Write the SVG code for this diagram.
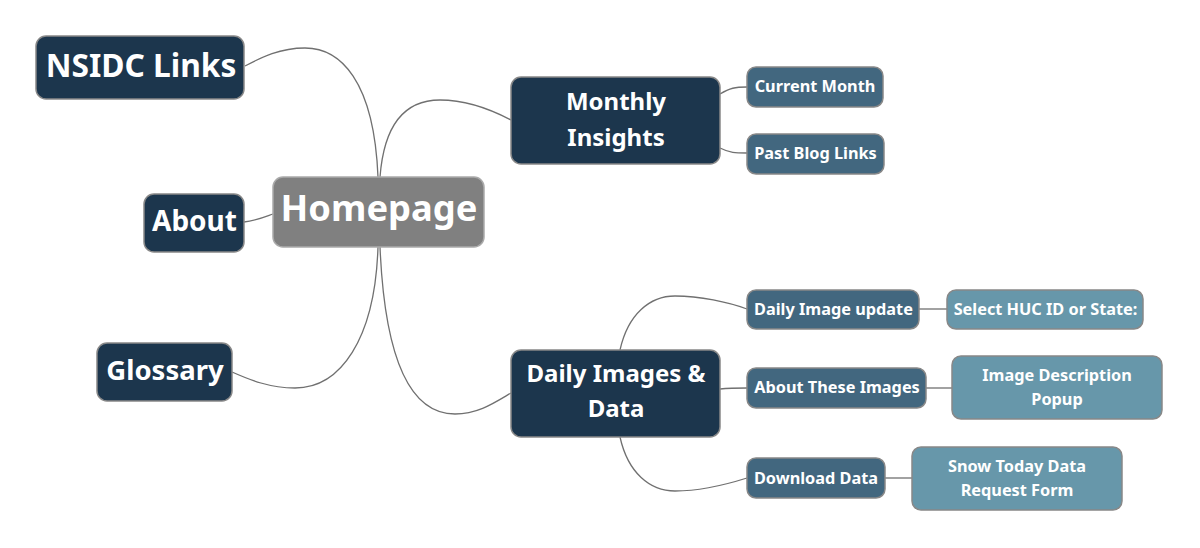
<svg xmlns="http://www.w3.org/2000/svg" width="1200" height="548" viewBox="0 0 1200 548">
<style>
text{font-family:"Noto Sans","Open Sans","DejaVu Sans",sans-serif;font-weight:bold;fill:#fff;text-anchor:middle}
.root{fill:#808080;stroke:#aaa;stroke-width:1.5}
.l1{fill:#1c364d;stroke:#888;stroke-width:1.5}
.l2{fill:#42677f;stroke:#888;stroke-width:1.5}
.l3{fill:#6797aa;stroke:#888;stroke-width:1.5}
.c{fill:none;stroke:#707070;stroke-width:1.3}
.s{font-size:16.3px}
.m{font-size:24px}
</style>
<g id="connectors">
<path class="c" d="M378,177 C374,80 340,48 305,48 C280,48 262,57 245,66"/>
<path class="c" d="M380,177 C384,125 405,100 440,100 C468,100 492,110 511,120"/>
<path class="c" d="M273,214 C262,218 255,221 244,222"/>
<path class="c" d="M378,247 C375,340 340,388 295,388 C270,388 250,380 232,372"/>
<path class="c" d="M380,247 C385,365 412,414 455,414 C478,414 494,403 511,393"/>
<path class="c" d="M720,94 C730,88 735,87 747,87"/>
<path class="c" d="M720,148 C730,153 735,153 747,153"/>
<path class="c" d="M620,350 C628,314 650,296 675,296 C700,296 728,302 747,309"/>
<path class="c" d="M720,389 C730,388 737,388 747,388"/>
<path class="c" d="M620,437 C628,473 650,491 675,491 C700,491 728,484 747,478"/>
<path class="c" d="M919,309 L947,309"/>
<path class="c" d="M926,388 L952,388"/>
<path class="c" d="M885,478 L912,478"/>
</g>
<g id="homepage"><rect class="root" x="273" y="177" width="211" height="70" rx="10"/><text x="379" y="221" font-size="36.3">Homepage</text></g>
<g id="nsidc-links"><rect class="l1" x="36" y="36" width="208" height="63" rx="10"/><text x="141" y="77" font-size="31.7">NSIDC Links</text></g>
<g id="about"><rect class="l1" x="144" y="194" width="100" height="58" rx="10"/><text x="194.5" y="231" font-size="28">About</text></g>
<g id="glossary"><rect class="l1" x="97" y="343" width="135" height="58" rx="10"/><text x="165" y="380" font-size="27.5">Glossary</text></g>
<g id="monthly-insights"><rect class="l1" x="511" y="77" width="209" height="87" rx="10"/><text class="m" x="616" y="110">Monthly</text><text class="m" x="616" y="146">Insights</text></g>
<g id="current-month"><rect class="l2" x="747" y="67" width="136" height="40" rx="9"/><text class="s" x="815" y="92">Current Month</text></g>
<g id="past-blog-links"><rect class="l2" x="747" y="134" width="137" height="40" rx="9"/><text class="s" x="815.5" y="159">Past Blog Links</text></g>
<g id="daily-images-data"><rect class="l1" x="511" y="350" width="209" height="87" rx="10"/><text class="m" x="616" y="382">Daily Images &amp;</text><text class="m" x="616" y="417">Data</text></g>
<g id="daily-image-update"><rect class="l2" x="747" y="290" width="172" height="39" rx="9"/><text class="s" x="833.5" y="315">Daily Image update</text></g>
<g id="select-huc"><rect class="l3" x="947" y="290" width="196" height="39" rx="9"/><text class="s" x="1045.5" y="315">Select HUC ID or State:</text></g>
<g id="about-these-images"><rect class="l2" x="747" y="368" width="179" height="40" rx="9"/><text class="s" x="837" y="393">About These Images</text></g>
<g id="image-description-popup"><rect class="l3" x="952" y="356" width="210" height="63" rx="9"/><text class="s" x="1057" y="381">Image Description</text><text class="s" x="1057" y="405">Popup</text></g>
<g id="download-data"><rect class="l2" x="747" y="458" width="138" height="40" rx="9"/><text class="s" x="816" y="484">Download Data</text></g>
<g id="snow-today-form"><rect class="l3" x="912" y="447" width="210" height="63" rx="9"/><text class="s" x="1017" y="472">Snow Today Data</text><text class="s" x="1017" y="496">Request Form</text></g>
</svg>
